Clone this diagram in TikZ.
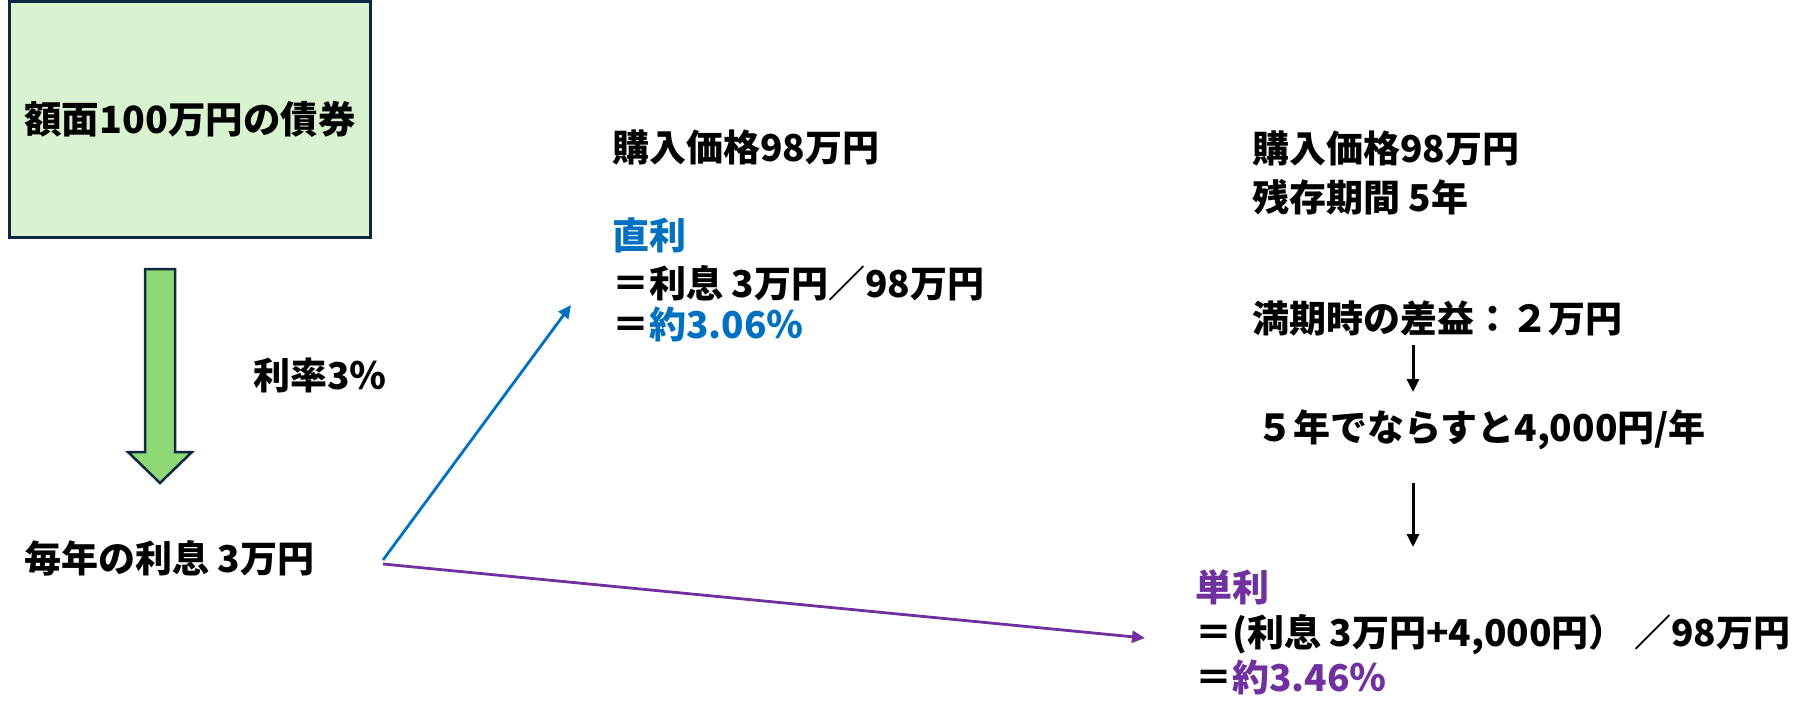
\documentclass[tikz,border=0pt]{standalone}
\usepackage{fontspec}
\setmainfont{Noto Sans CJK JP}
\usetikzlibrary{arrows.meta}
\definecolor{boxfill}{HTML}{D9F2D0}
\definecolor{boxline}{HTML}{0E2841}
\definecolor{arrowgreen}{HTML}{8ED973}
\definecolor{myblue}{HTML}{0070C0}
\definecolor{mypurple}{HTML}{7030A0}
\begin{document}
\begin{tikzpicture}[x=1pt,y=-1pt,
  txt/.style={anchor=west,inner sep=0pt,font=\fontsize{37}{41}\selectfont\bfseries},
  thinarrow/.style={line width=2.8pt,-{Triangle[length=13pt,width=12pt]}},
  blackarrow/.style={line width=3pt,-{Triangle[length=13pt,width=12pt]}}]
\useasboundingbox (0,0) rectangle (1810,726);
% bond box
\node (box) [draw=boxline, fill=boxfill, line width=3pt, minimum width=361pt, minimum height=236pt,
  inner sep=0pt, font=\fontsize{37.5}{42}\selectfont\bfseries] at (190,119.5) {額面100万円の債券};
% green block arrow
\draw[boxline, fill=arrowgreen, line width=2.5pt, line join=miter]
  (145,269) -- (175,269) -- (175,452) -- (192,452) -- (160,483) -- (128,452) -- (145,452) -- cycle;
\node (rate) [txt] at (253,375) {利率3％};
\node (interest) [txt] at (24,558) {毎年の利息 3万円};
% middle column
\node (buy1) [txt] at (612,147) {購入価格98万円};
\node (choku) [txt, text=myblue] at (612,235) {直利};
\node (choku1) [txt] at (612,283) {＝利息 3万円／98万円};
\node (choku2) [txt] at (612,324) {＝\textcolor{myblue}{約3.06％}};
% right column
\node (buy2) [txt] at (1252,148) {購入価格98万円};
\node (term) [txt] at (1252,197) {残存期間 5年};
\node (gain) [txt] at (1252,318) {満期時の差益：２万円};
\node (spread) [txt] at (1256,430) {５年でならすと4,000円/年};
\node (tan) [txt, text=mypurple] at (1195,587) {単利};
\node (tan1) [txt] at (1195,635) {＝(利息 3万円+4,000円） ／98万円};
\node (tan2) [txt] at (1195,677) {＝\textcolor{mypurple}{約3.46％}};
% connectors
\coordinate (bs) at (383,560);
\coordinate (be) at (571,305);
\coordinate (ps) at (383,564);
\coordinate (pe) at (1145,638);
\draw[thinarrow, myblue] (bs) -- (be);
\draw[thinarrow, mypurple] (ps) -- (pe);
\coordinate (a1s) at (1413,345);
\coordinate (a1e) at (1413,392);
\coordinate (a2s) at (1413,483);
\coordinate (a2e) at (1413,547);
\draw[blackarrow] (a1s) -- (a1e);
\draw[blackarrow] (a2s) -- (a2e);
\end{tikzpicture}
\end{document}
